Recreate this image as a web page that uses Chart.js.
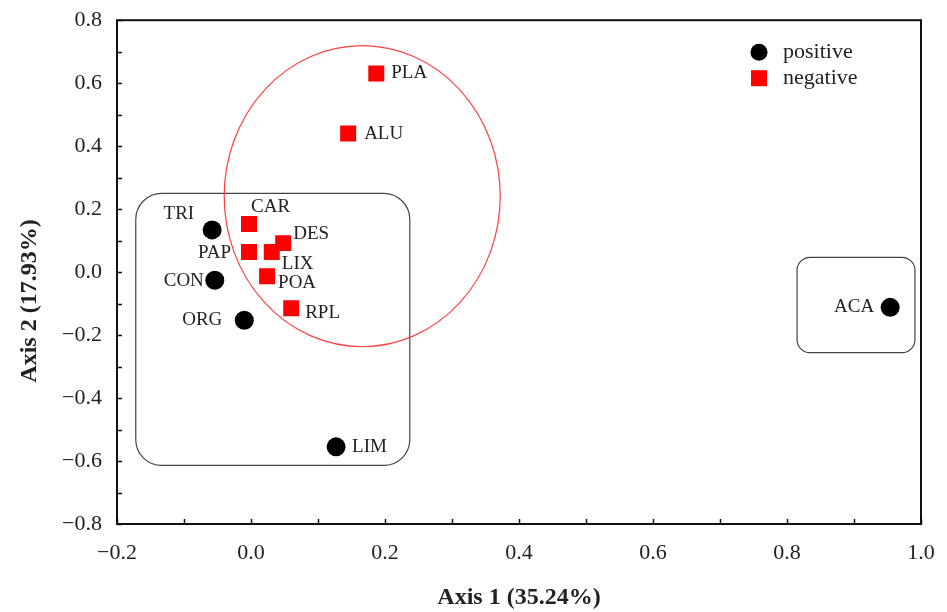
<!DOCTYPE html>
<html>
<head>
<meta charset="utf-8">
<script src="https://cdn.jsdelivr.net/npm/chart.js@4.4.0/dist/chart.umd.min.js"></script>
<style>
  html, body { margin: 0; padding: 0; background: #fff; }
  #wrap { width: 947px; height: 612px; }
</style>
</head>
<body>
<div id="wrap"><canvas id="myChart" width="947" height="612"></canvas></div>
<script>
// values
const positiveNames = ['TRI', 'CON', 'ORG', 'LIM', 'ACA'];
const positiveX = [-0.058, -0.054, -0.010, 0.127, 0.954];
const positiveY = [0.134, -0.026, -0.153, -0.555, -0.112];

const negativeNames = ['CAR', 'PAP', 'LIX', 'DES', 'POA', 'RPL', 'ALU', 'PLA'];
const negativeX = [-0.003, -0.003, 0.031, 0.048, 0.024, 0.060, 0.145, 0.187];
const negativeY = [0.153, 0.064, 0.064, 0.092, -0.013, -0.115, 0.440, 0.631];

const xTicks = [-0.2, 0.0, 0.2, 0.4, 0.6, 0.8, 1.0];
const yTicks = [-0.8, -0.6, -0.4, -0.2, 0.0, 0.2, 0.4, 0.6, 0.8];

// label placement next to each point (pixels)
const labelOffsets = {
    TRI: [-18, -16, 'right'], CON: [-11, 1, 'right'], ORG: [-22, 0, 'right'],
    LIM: [16, 0, 'left'], ACA: [-16, 0, 'right'],
    CAR: [2, -17, 'left'], PAP: [-18, 1, 'right'], LIX: [10, 12, 'left'],
    DES: [10, -9, 'left'], POA: [11, 7, 'left'], RPL: [14, 5, 'left'],
    ALU: [16, 0, 'left'], PLA: [15, 0, 'left']
};

// grouping outlines drawn in data space
const boxes = [
    { x0: -0.172, x1: 0.237, y0: 0.25, y1: -0.614, r: 26 },
    { x0: 0.815, x1: 0.991, y0: 0.047, y1: -0.256, r: 13 }
];
const ellipse = { cx: 0.166, cy: 0.241, rx: 0.206, ry: 0.478 };

const serif = "'Liberation Serif', 'DejaVu Serif', serif";
const fmt = v => (Math.round(v * 10) / 10).toFixed(1).replace('-', '\u2212');

const ctx = document.getElementById('myChart');

const decorations = {
    id: 'decorations',
    beforeDatasetsDraw(chart) {
        const c = chart.ctx;
        const xs = chart.scales.x, ys = chart.scales.y;
        c.save();
        c.strokeStyle = '#444';
        c.lineWidth = 1.2;
        boxes.forEach(b => {
            const l = xs.getPixelForValue(b.x0), r = xs.getPixelForValue(b.x1);
            const t = ys.getPixelForValue(b.y0), bt = ys.getPixelForValue(b.y1);
            c.beginPath();
            c.roundRect(l, t, r - l, bt - t, b.r);
            c.stroke();
        });
        const ecx = xs.getPixelForValue(ellipse.cx), ecy = ys.getPixelForValue(ellipse.cy);
        const erx = Math.abs(xs.getPixelForValue(ellipse.cx + ellipse.rx) - ecx);
        const ery = Math.abs(ys.getPixelForValue(ellipse.cy + ellipse.ry) - ecy);
        c.strokeStyle = '#ff4040';
        c.lineWidth = 1.2;
        c.beginPath();
        c.ellipse(ecx, ecy, erx, ery, 0, 0, Math.PI * 2);
        c.stroke();
        c.restore();
    },
    afterDatasetsDraw(chart) {
        const c = chart.ctx;
        const a = chart.chartArea;
        const xs = chart.scales.x, ys = chart.scales.y;
        c.save();
        // frame
        c.strokeStyle = '#111';
        c.lineWidth = 2;
        c.strokeRect(a.left, a.top, a.right - a.left, a.bottom - a.top);
        // inner ticks
        c.lineWidth = 1.5;
        c.beginPath();
        for (let v = -0.2; v <= 1.0001; v += 0.1) {
            const px = Math.round(xs.getPixelForValue(v)) + 0.5;
            c.moveTo(px, a.bottom);
            c.lineTo(px, a.bottom - 5);
        }
        for (let v = -0.8; v <= 0.8001; v += 0.1) {
            const py = Math.round(ys.getPixelForValue(v)) + 0.5;
            c.moveTo(a.left, py);
            c.lineTo(a.left + 5, py);
        }
        c.stroke();
        // point labels
        c.fillStyle = '#222';
        c.font = '19px ' + serif;
        c.textBaseline = 'middle';
        chart.data.datasets.forEach((ds, di) => {
            const meta = chart.getDatasetMeta(di);
            meta.data.forEach((pt, i) => {
                const name = ds.names[i];
                const off = labelOffsets[name];
                c.textAlign = off[2];
                c.fillText(name, pt.x + off[0], pt.y + off[1]);
            });
        });
        // legend
        const lx = a.right - 162, ly = a.top + 32;
        c.font = '22px ' + serif;
        c.textAlign = 'left';
        chart.data.datasets.forEach((ds, di) => {
            const y = ly + di * 26;
            c.fillStyle = ds.backgroundColor;
            c.beginPath();
            if (ds.pointStyle === 'circle') {
                c.arc(lx, y, 8.5, 0, Math.PI * 2);
            } else {
                c.rect(lx - 8, y - 8, 16, 16);
            }
            c.fill();
            c.fillStyle = '#222';
            c.fillText(ds.label, lx + 24, y);
        });
        // y axis title
        c.font = 'bold 24px ' + serif;
        c.textAlign = 'center';
        c.translate(30, 301);
        c.rotate(-Math.PI / 2);
        c.fillText('Axis 2 (17.93%)', 0, 0);
        c.restore();
    }
};

new Chart(ctx, {
    type: 'scatter',
    data: {
        datasets: [
            {
                label: 'positive',
                names: positiveNames,
                data: positiveX.map((x, i) => ({ x: x, y: positiveY[i] })),
                pointStyle: 'circle',
                pointRadius: 9.5,
                backgroundColor: '#000000',
                borderColor: '#000000',
                borderWidth: 0
            },
            {
                label: 'negative',
                names: negativeNames,
                data: negativeX.map((x, i) => ({ x: x, y: negativeY[i] })),
                pointStyle: 'rect',
                pointRadius: 11.3,
                backgroundColor: '#ff0000',
                borderColor: '#ff0000',
                borderWidth: 0
            }
        ]
    },
    options: {
        responsive: false,
        animation: false,
        layout: { padding: { top: 20, right: 26, left: 0, bottom: 0 } },
        plugins: {
            legend: { display: false },
            tooltip: { enabled: false }
        },
        scales: {
            x: {
                type: 'linear',
                min: -0.2,
                max: 1.0,
                afterBuildTicks: s => { s.ticks = xTicks.map(v => ({ value: v })); },
                afterFit: s => { s.height = 88; },
                grid: { display: false },
                border: { display: false },
                ticks: {
                    color: '#222',
                    padding: 8,
                    font: { family: serif, size: 22 },
                    callback: v => fmt(v),
                    maxRotation: 0
                },
                title: {
                    display: true,
                    text: 'Axis 1 (35.24%)',
                    color: '#222',
                    font: { family: serif, size: 24, weight: 'bold' },
                    padding: { top: 0, bottom: 0 }
                }
            },
            y: {
                type: 'linear',
                min: -0.8,
                max: 0.8,
                afterBuildTicks: s => { s.ticks = yTicks.map(v => ({ value: v })); },
                afterFit: s => { s.width = 117; },
                grid: { display: false },
                border: { display: false },
                ticks: {
                    color: '#222',
                    padding: 7,
                    font: { family: serif, size: 22 },
                    callback: v => fmt(v)
                },
                title: { display: false }
            }
        }
    },
    plugins: [decorations]
});
</script>
</body>
</html>
